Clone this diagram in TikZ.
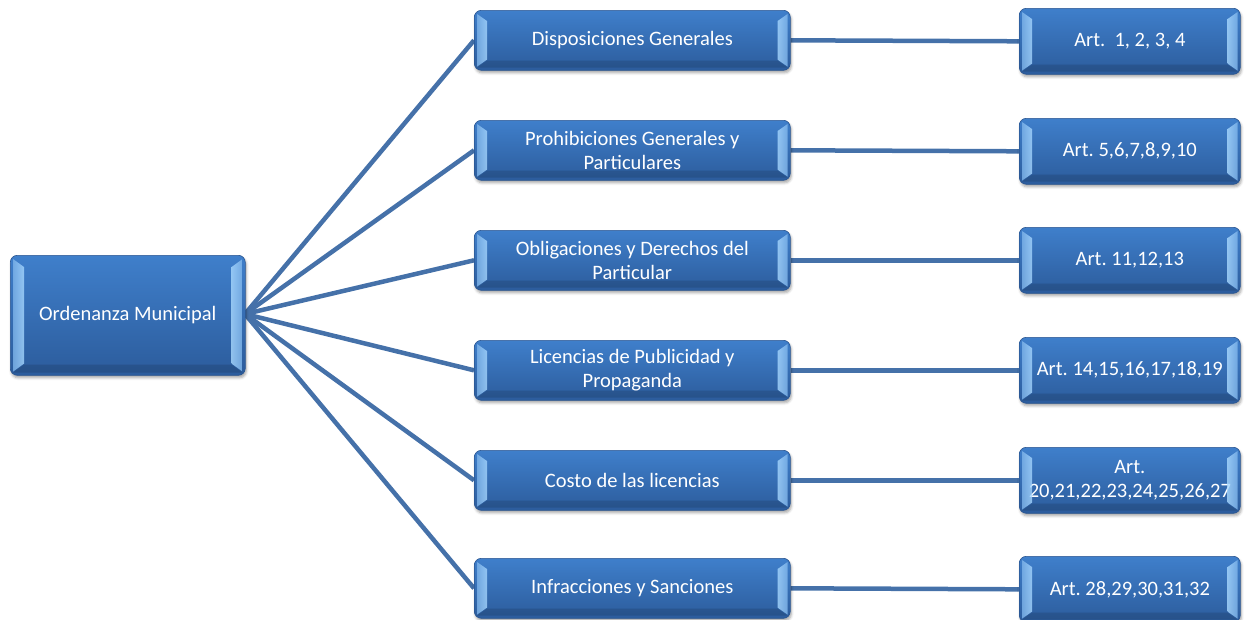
\documentclass[tikz,border=0pt]{standalone}
\usepackage{fontspec}
\setmainfont{Carlito}
\frenchspacing
\usetikzlibrary{calc,shadows.blur,backgrounds}
\definecolor{boxtop}{HTML}{3F7FCB}
\definecolor{boxbot}{HTML}{2C5C9C}
\definecolor{boxedge}{HTML}{2A5590}
\definecolor{bevlight}{HTML}{A8D8FF}
\definecolor{linkc}{HTML}{4571A9}
\tikzset{
  box/.style={rounded corners=7pt, top color=boxtop, bottom color=boxbot,
    draw=boxedge, line width=0.6pt, text=white, align=center, inner sep=0pt,
    font=\fontsize{20.5}{24}\selectfont,
    blur shadow={shadow xshift=1pt, shadow yshift=-2.5pt, shadow blur radius=2.5pt, shadow opacity=35}},
  mid/.style={box, minimum width=316, minimum height=60, anchor=north west},
  art/.style={box, minimum width=221, minimum height=66, anchor=north west},
  link/.style={draw=linkc, line width=4.5pt},
}
\newcommand{\bev}[3]{%
  \shade[left color=bevlight!60!boxtop, right color=bevlight, opacity=0.8]
    ($(#1.north west)+(3,-4)$) -- ($(#1.north west)+(3+#2,-4-#3)$) --
    ($(#1.south west)+(3+#2,4+#3)$) -- ($(#1.south west)+(3,4)$) -- cycle;
  \shade[right color=bevlight!60!boxtop, left color=bevlight, opacity=0.8]
    ($(#1.north east)+(-3,-4)$) -- ($(#1.north east)+(-3-#2,-4-#3)$) --
    ($(#1.south east)+(-3-#2,4+#3)$) -- ($(#1.south east)+(-3,4)$) -- cycle;
  \fill[black, opacity=0.12]
    ($(#1.south west)+(3,3)$) -- ($(#1.south west)+(3+#2,3+#3)$) --
    ($(#1.south east)+(-3-#2,3+#3)$) -- ($(#1.south east)+(-3,3)$) -- cycle;
}
\begin{document}
\begin{tikzpicture}[x=1pt,y=1pt]
\useasboundingbox (0,0) rectangle (1247,-619);
\node[box, minimum width=235, minimum height=120, anchor=north west] (root) at (10,-255) {Ordenanza Municipal};
\coordinate (rootR) at (245,-314);
\node[mid] (m1) at (474,-10) {Disposiciones Generales};
\node[mid] (m2) at (474,-120) {Prohibiciones Generales y\\Particulares};
\node[mid] (m3) at (474,-230) {Obligaciones y Derechos del\\Particular};
\node[mid] (m4) at (474,-340) {Licencias de Publicidad y\\Propaganda};
\node[mid] (m5) at (474,-450) {Costo de las licencias};
\node[mid] (m6) at (474,-558) {Infracciones y Sanciones};
\node[art] (r1) at (1019,-8) {Art.\ \ 1, 2, 3, 4};
\node[art] (r2) at (1019,-118) {Art. 5,6,7,8,9,10};
\node[art] (r3) at (1019,-227) {Art. 11,12,13};
\node[art] (r4) at (1019,-337) {Art. 14,15,16,17,18,19};
\node[art] (r5) at (1019,-447) {Art.\\20,21,22,23,24,25,26,27};
\node[art] (r6) at (1019,-556) {Art. 28,29,30,31,32};
\bev{root}{11}{8}
\foreach \n in {m1,m2,m3,m4,m5,m6,r1,r2,r3,r4,r5,r6}{\bev{\n}{10}{7}}
\begin{scope}[on background layer]
\foreach \n in {m1,m2,m3,m4,m5,m6}{
  \draw[link] (rootR) -- (\n.west);
}
\foreach \i in {1,...,6}{
  \draw[link] (m\i.east) -- (r\i.west);
}
\end{scope}
\end{tikzpicture}
\end{document}
